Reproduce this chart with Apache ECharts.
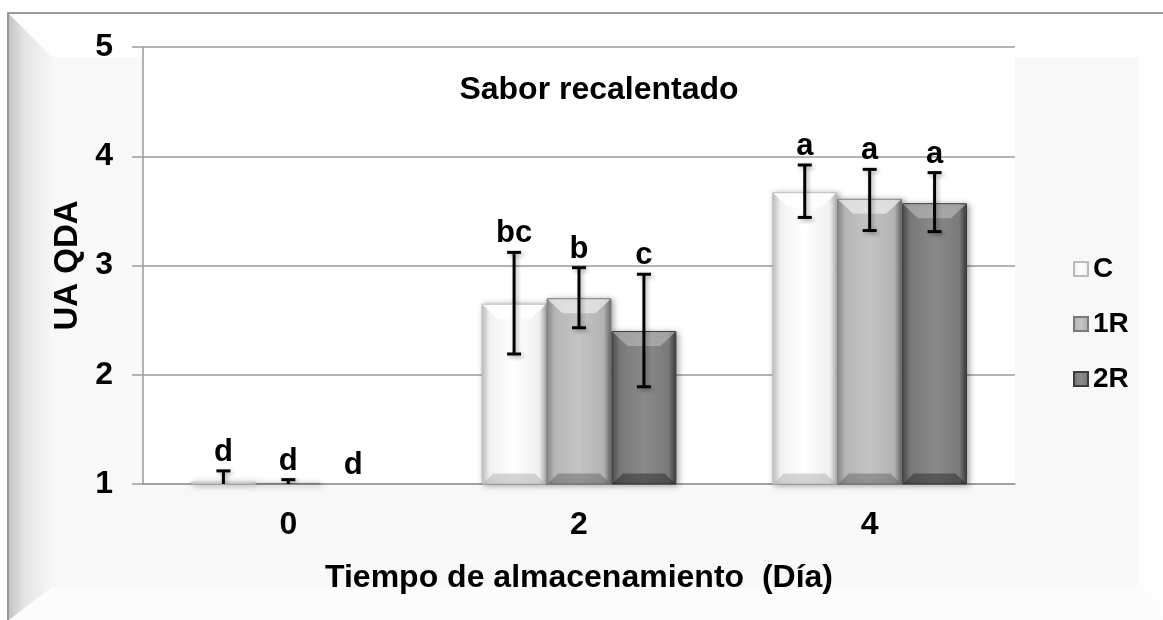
<!DOCTYPE html>
<html>
<head>
<meta charset="utf-8">
<script src="https://cdn.jsdelivr.net/npm/echarts@6/dist/echarts.min.js"></script>
<style>
html, body { margin: 0; padding: 0; background: #fff; }
#chart { width: 1163px; height: 620px; }
</style>
</head>
<body>
<div id="chart"></div>
<script>
// datos
var dias = ['0', '2', '4'];
var serieNames = ['C', '1R', '2R'];
var valC  = [1.02, 2.65, 3.67];
var val1R = [1.01, 2.70, 3.61];
var val2R = [1.00, 2.40, 3.57];
var errLowC   = [0.92, 2.19, 3.44];
var errHighC  = [1.12, 3.12, 3.92];
var errLow1R  = [0.98, 2.43, 3.32];
var errHigh1R = [1.04, 2.98, 3.88];
var errLow2R  = [1.00, 1.89, 3.31];
var errHigh2R = [1.00, 2.92, 3.85];
var letrasC  = ['d', 'bc', 'a'];
var letras1R = ['d', 'b', 'a'];
var letras2R = ['d', 'c', 'a'];
var yTicks = [1, 2, 3, 4, 5];

var FONT = "'Liberation Sans', Arial, sans-serif";

var vals = [valC, val1R, val2R];
var errLow = [errLowC, errLow1R, errLow2R];
var errHigh = [errHighC, errHigh1R, errHigh2R];
var letras = [letrasC, letras1R, letras2R];
var errData = [], errLetters = [], bevelData = [];
for (var s = 0; s < 3; s++) {
    for (var i = 0; i < dias.length; i++) {
        errData.push([i, s, errLow[s][i], errHigh[s][i]]);
        errLetters.push(letras[s][i]);
        bevelData.push([i, s, vals[s][i]]);
    }
}

function grad(c0, c1, c2, c3, c4) {
    return new echarts.graphic.LinearGradient(0, 0, 1, 0, [
        { offset: 0, color: c0 },
        { offset: 0.12, color: c1 },
        { offset: 0.5, color: c2 },
        { offset: 0.88, color: c3 },
        { offset: 1, color: c4 }
    ]);
}
var colC  = grad('#c4c4c4', '#f2f2f2', '#ffffff', '#f0f0f0', '#b4b4b4');
var col1R = grad('#8c8c8c', '#b6b6b6', '#c4c4c4', '#b2b2b2', '#6a6a6a');
var col2R = grad('#4c4c4c', '#777777', '#8a8a8a', '#7a7a7a', '#383838');
var bevelTop = ['rgba(255,255,255,0.9)', 'rgba(235,235,235,0.75)', 'rgba(190,190,190,0.6)'];
var bevelBot = ['rgba(180,180,180,0.55)', 'rgba(90,90,90,0.45)', 'rgba(30,30,30,0.45)'];

var barShadow = {
    shadowBlur: 6,
    shadowColor: 'rgba(0,0,0,0.35)',
    shadowOffsetX: 2,
    shadowOffsetY: 1
};

var chart = echarts.init(document.getElementById('chart'));
var option = {
    backgroundColor: '#ffffff',
    animation: false,
    graphic: [
        { type: 'rect', z: -10, shape: { x: 8, y: 13, width: 1170, height: 620 },
          style: { fill: '#f8f8f8', stroke: '#9a9a9a', lineWidth: 2 } },
        { type: 'polygon', z: -9, shape: { points: [[9, 14], [1163, 14], [1163, 20], [1137, 57], [52, 57]] },
          style: { fill: '#fefefe' } },
        { type: 'polygon', z: -9, shape: { points: [[9, 14], [52, 57], [52, 587], [9, 620]] },
          style: { fill: new echarts.graphic.LinearGradient(0, 0, 1, 0, [
              { offset: 0, color: '#c4c4c4' }, { offset: 0.35, color: '#e4e4e4' }, { offset: 1, color: '#f6f6f6' }]) } },
        { type: 'polygon', z: -9, shape: { points: [[1137, 57], [1163, 20], [1163, 620], [1137, 587]] },
          style: { fill: '#fdfdfd' } },
        { type: 'polygon', z: -9, shape: { points: [[52, 587], [1137, 587], [1163, 620], [9, 620]] },
          style: { fill: '#fcfcfc' } }
    ],
    title: {
        text: 'Sabor recalentado',
        left: 594,
        textAlign: 'center',
        top: 69,
        textStyle: { fontFamily: FONT, fontWeight: 'bold', fontSize: 32, color: '#000' }
    },
    legend: {
        orient: 'vertical',
        left: 1068,
        top: 248,
        itemWidth: 14,
        itemHeight: 14,
        itemGap: 23,
        icon: 'rect',
        data: serieNames,
        textStyle: { fontFamily: FONT, fontWeight: 'bold', fontSize: 28, color: '#000', lineHeight: 32 }
    },
    grid: {
        left: 143, right: 148, top: 47, bottom: 136,
        show: true, backgroundColor: '#ffffff', borderWidth: 0
    },
    xAxis: {
        type: 'category',
        data: dias,
        name: 'Tiempo de almacenamiento  (Día)',
        nameLocation: 'middle',
        nameGap: 78,
        nameTextStyle: { fontFamily: FONT, fontWeight: 'bold', fontSize: 32, color: '#000' },
        axisLine: { lineStyle: { color: '#9a9a9a', width: 1.5 } },
        axisTick: { show: false },
        axisLabel: { margin: 25, fontFamily: FONT, fontWeight: 'bold', fontSize: 32, color: '#000' }
    },
    yAxis: {
        type: 'value',
        min: yTicks[0],
        max: yTicks[yTicks.length - 1],
        interval: 1,
        name: 'UA QDA',
        nameLocation: 'middle',
        nameGap: 59,
        nameRotate: 90,
        nameTextStyle: { fontFamily: FONT, fontWeight: 'bold', fontSize: 33, color: '#000' },
        axisLine: { show: true, lineStyle: { color: '#9a9a9a', width: 1.5 } },
        axisTick: { show: true, length: 11, lineStyle: { color: '#9a9a9a', width: 1.5 } },
        axisLabel: { margin: 30, fontFamily: FONT, fontWeight: 'bold', fontSize: 32, color: '#000' },
        splitLine: { lineStyle: { color: '#9a9a9a', width: 1.5 } }
    },
    series: [
        { name: 'C', type: 'bar', data: valC, barGap: '0%', barCategoryGap: '33%',
          itemStyle: Object.assign({ color: colC, borderColor: '#bbbbbb', borderWidth: 1 }, barShadow) },
        { name: '1R', type: 'bar', data: val1R, barGap: '0%', barCategoryGap: '33%',
          itemStyle: Object.assign({ color: col1R, borderColor: '#7a7a7a', borderWidth: 1 }, barShadow) },
        { name: '2R', type: 'bar', data: val2R, barGap: '0%', barCategoryGap: '33%',
          itemStyle: Object.assign({ color: col2R, borderColor: '#3c3c3c', borderWidth: 1 }, barShadow) },
        {
            // bisel superior/inferior de las barras
            type: 'custom',
            name: 'bevel',
            data: bevelData,
            z: 5,
            silent: true,
            clip: true,
            renderItem: function (params, api) {
                var cat = api.value(0), s = api.value(1), v = api.value(2);
                var band = api.size([1, 0])[0];
                var bw = band * 0.67 / 3;
                var pTop = api.coord([cat, v]);
                var pBase = api.coord([cat, yTicks[0]]);
                var cx = pTop[0] + (s - 1) * bw;
                var x0 = cx - bw / 2 + 1, x1 = cx + bw / 2 - 1;
                var h = Math.min(15, (pBase[1] - pTop[1]) / 2);
                if (h < 1) return null;
                return {
                    type: 'group',
                    children: [
                        { type: 'polygon', shape: { points: [[x0, pTop[1] + 1], [x1, pTop[1] + 1], [x1 - h, pTop[1] + h], [x0 + h, pTop[1] + h]] },
                          style: { fill: bevelTop[s] } },
                        { type: 'polygon', shape: { points: [[x0, pBase[1]], [x1, pBase[1]], [x1 - h * 0.7, pBase[1] - h * 0.7], [x0 + h * 0.7, pBase[1] - h * 0.7]] },
                          style: { fill: bevelBot[s] } }
                    ]
                };
            }
        },
        {
            type: 'custom',
            name: 'error',
            data: errData,
            z: 10,
            clip: true,
            renderItem: function (params, api) {
                var cat = api.value(0), s = api.value(1), lo = api.value(2), hi = api.value(3);
                var band = api.size([1, 0])[0];
                var bw = band * 0.67 / 3;
                var pTop = api.coord([cat, hi]);
                var pBot = api.coord([cat, lo]);
                var x = pTop[0] + (s - 1) * bw;
                var st = { stroke: '#000', lineWidth: 3, shadowBlur: 4, shadowColor: 'rgba(0,0,0,0.3)', shadowOffsetX: 2, shadowOffsetY: 2 };
                var children = [];
                if (hi > lo) {
                    children.push({ type: 'line', shape: { x1: x, y1: pTop[1], x2: x, y2: pBot[1] }, style: st });
                    children.push({ type: 'line', shape: { x1: x - 7, y1: pTop[1], x2: x + 7, y2: pTop[1] }, style: st });
                    children.push({ type: 'line', shape: { x1: x - 7, y1: pBot[1], x2: x + 7, y2: pBot[1] }, style: st });
                }
                children.push({
                    type: 'text',
                    style: {
                        text: errLetters[params.dataIndex],
                        x: x, y: pTop[1] - 3,
                        align: 'center', verticalAlign: 'bottom',
                        font: 'bold 31px ' + FONT,
                        fill: '#000'
                    }
                });
                return { type: 'group', children: children };
            }
        }
    ]
};
chart.setOption(option);
</script>
</body>
</html>
